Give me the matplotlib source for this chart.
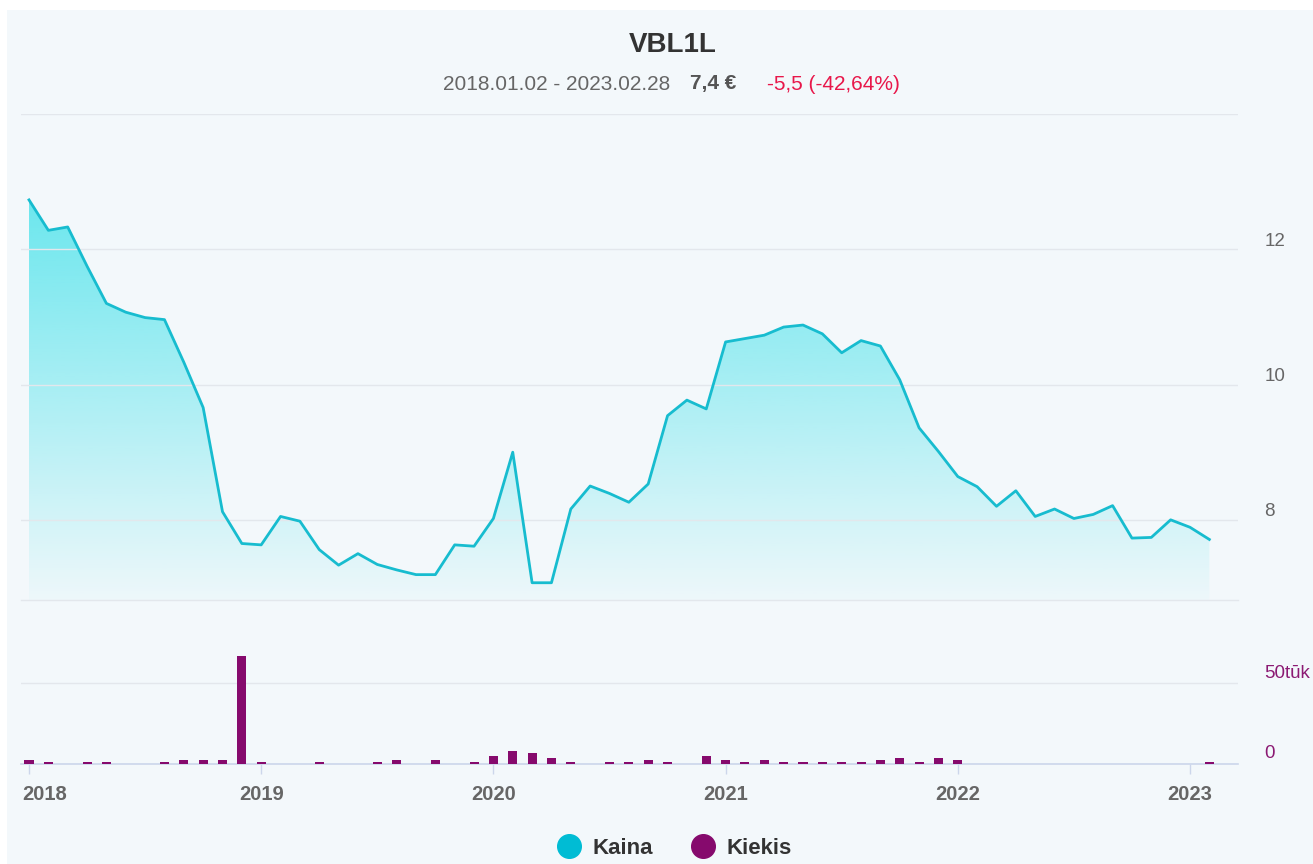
import numpy as np
import matplotlib
matplotlib.use('Agg')
from matplotlib import pyplot as plt
from matplotlib.lines import Line2D
from matplotlib.patches import Rectangle
from matplotlib.transforms import ScaledTranslation

plt.rcParams['font.family'] = ['Liberation Sans', 'DejaVu Sans']

# monthly data, Jan 2018 .. Feb 2023
price = [12.73, 12.28, 12.33, 11.75, 11.20, 11.07, 10.99, 10.96, 10.33, 9.66,
         8.12, 7.65, 7.63, 8.05, 7.98, 7.56, 7.33, 7.50, 7.34, 7.26,
         7.19, 7.19, 7.63, 7.61, 8.02, 9.00, 7.07, 7.07, 8.16, 8.50,
         8.39, 8.26, 8.53, 9.54, 9.77, 9.64, 10.63, 10.68, 10.73, 10.85,
         10.88, 10.75, 10.47, 10.65, 10.57, 10.07, 9.36, 9.01, 8.64, 8.49,
         8.20, 8.43, 8.05, 8.16, 8.02, 8.08, 8.21, 7.73, 7.74, 8.00,
         7.89, 7.71]
volume = [2.5, 1.4, 0, 1.4, 1.4, 0, 0, 1.4, 2.5, 2.5,
          2.5, 66.9, 1.4, 0, 0, 1.4, 0, 0, 1.4, 2.5,
          0, 2.5, 0, 1.4, 4.7, 7.8, 6.8, 3.7, 1.4, 0,
          1.4, 1.4, 2.5, 1.4, 0, 4.7, 2.5, 1.4, 2.5, 1.4,
          1.4, 1.4, 1.4, 1.4, 2.5, 3.7, 1.4, 3.7, 2.5, 0,
          0, 0, 0, 0, 0, 0, 0, 0, 0, 0,
          0, 1.4]
years = ['2018', '2019', '2020', '2021', '2022', '2023']
price_ticks = [8, 10, 12, 14]

months = np.arange(len(price))
year_pos = np.arange(len(years)) * 12

W, H = 1313, 864
fig = plt.figure(figsize=(W / 100, H / 100), dpi=100)
fig.patch.set_facecolor('white')
bg = '#f3f8fb'
fig.patches.append(Rectangle((7 / W, 0), 1, 1 - 10 / H, transform=fig.transFigure,
                             facecolor=bg, edgecolor='none', zorder=-10))

grid_c = '#e3e7ec'
line_c = '#17bccf'
vol_c = '#860a6d'

# pixel helpers
px_left, px_right = 21, 1238
step = 19.35
x0 = 29
xlim = ((px_left - x0) / step, (px_right - x0) / step)

def axes_rect(top, bottom):
    return [px_left / W, 1 - bottom / H, (px_right - px_left) / W, (bottom - top) / H]

# ---- price panel
ax = fig.add_axes(axes_rect(114, 600))
ax.set_facecolor('none')
ymin = 8 - 80 / 67.5
ymax = 14

poly = ax.fill_between(months, price, ymin, color='none', lw=0)
n = 256
rgba = np.zeros((n, 1, 4))
rgba[..., 0] = 0x2e / 255
rgba[..., 1] = 0xdf / 255
rgba[..., 2] = 0xe8 / 255
rgba[..., 3] = np.linspace(0.03, 0.69, n).reshape(-1, 1)
im = ax.imshow(rgba, extent=[months[0], months[-1], ymin, max(price)], origin='lower',
               aspect='auto', zorder=1, interpolation='bilinear')
im.set_clip_path(poly.get_paths()[0], transform=ax.transData)
ax.plot(months, price, color=line_c, lw=2.0, zorder=3, solid_joinstyle='round')

ax.set_xlim(*xlim)
ax.set_ylim(ymin, ymax)
ax.set_xticks([])
ax.set_yticks(price_ticks, ['8', '10', '12', ''])
ax.yaxis.tick_right()
ax.tick_params(axis='y', length=0, pad=19, labelsize=13.5, labelcolor='#666666')
for lab in ax.get_yticklabels():
    lab.set_ha('left')
    lab.set_transform(lab.get_transform() + ScaledTranslation(0, 0.10, fig.dpi_scale_trans))
ax.grid(axis='y', color=grid_c, lw=1.0, zorder=0)
for s in ['top', 'left', 'right']:
    ax.spines[s].set_visible(False)
ax.spines['bottom'].set_color(grid_c)
ax.spines['bottom'].set_linewidth(1.0)

# ---- volume panel
per_unit = 81 / 50
vax = fig.add_axes(axes_rect(640, 764))
vax.set_facecolor('none')
vax.bar(months, volume, width=0.47, color=vol_c, zorder=3)
vax.set_xlim(*xlim)
vax.set_ylim(0, 124 / per_unit)
vax.set_yticks([0, 50], ['0', '50tūk'])
vax.yaxis.tick_right()
vax.tick_params(axis='y', length=0, pad=19, labelsize=13.5, labelcolor='#8b1a73')
for lab in vax.get_yticklabels():
    lab.set_ha('left')
    lab.set_transform(lab.get_transform() + ScaledTranslation(0, 0.12, fig.dpi_scale_trans))
vax.grid(axis='y', color=grid_c, lw=1.0, zorder=0)
for s in ['top', 'left', 'right']:
    vax.spines[s].set_visible(False)
vax.spines['bottom'].set_color('#ccd6eb')
vax.spines['bottom'].set_linewidth(1.2)
vax.set_xticks(year_pos, years)
vax.tick_params(axis='x', direction='out', length=7, width=1, color='#ccd6eb', pad=8,
                labelsize=14.5, labelcolor='#666666')
for lab in vax.get_xticklabels():
    lab.set_fontweight('bold')
first = vax.get_xticklabels()[0]
first.set_ha('left')
first.set_transform(first.get_transform() + ScaledTranslation(-0.07, 0, fig.dpi_scale_trans))

# ---- titles
fig.text(673 / W, 1 - 45 / H, 'VBL1L', ha='center', va='center', fontsize=20,
         fontweight='bold', color='#333333')
fig.text(443 / W, 1 - 84 / H, '2018.01.02 - 2023.02.28', ha='left', va='center',
         fontsize=15, color='#666666')
fig.text(690 / W, 1 - 84 / H, '7,4 €', ha='left', va='center', fontsize=15,
         fontweight='bold', color='#555555')
fig.text(767 / W, 1 - 84 / H, '-5,5 (-42,64%)', ha='left', va='center', fontsize=15,
         color='#e8174a')

# ---- legend
handles = [Line2D([], [], ls='none', marker='o', markersize=17, color='#00bcd4'),
           Line2D([], [], ls='none', marker='o', markersize=17, color=vol_c)]
fig.legend(handles, ['Kaina', 'Kiekis'], loc='center', bbox_to_anchor=(674 / W, 1 - 848 / H),
           ncol=2, frameon=False, handlelength=1.1, handletextpad=0.5, columnspacing=1.7,
           prop={'size': 16, 'weight': 'bold'}, labelcolor='#333333')

fig.savefig('out.png', dpi=100, facecolor=fig.get_facecolor())
